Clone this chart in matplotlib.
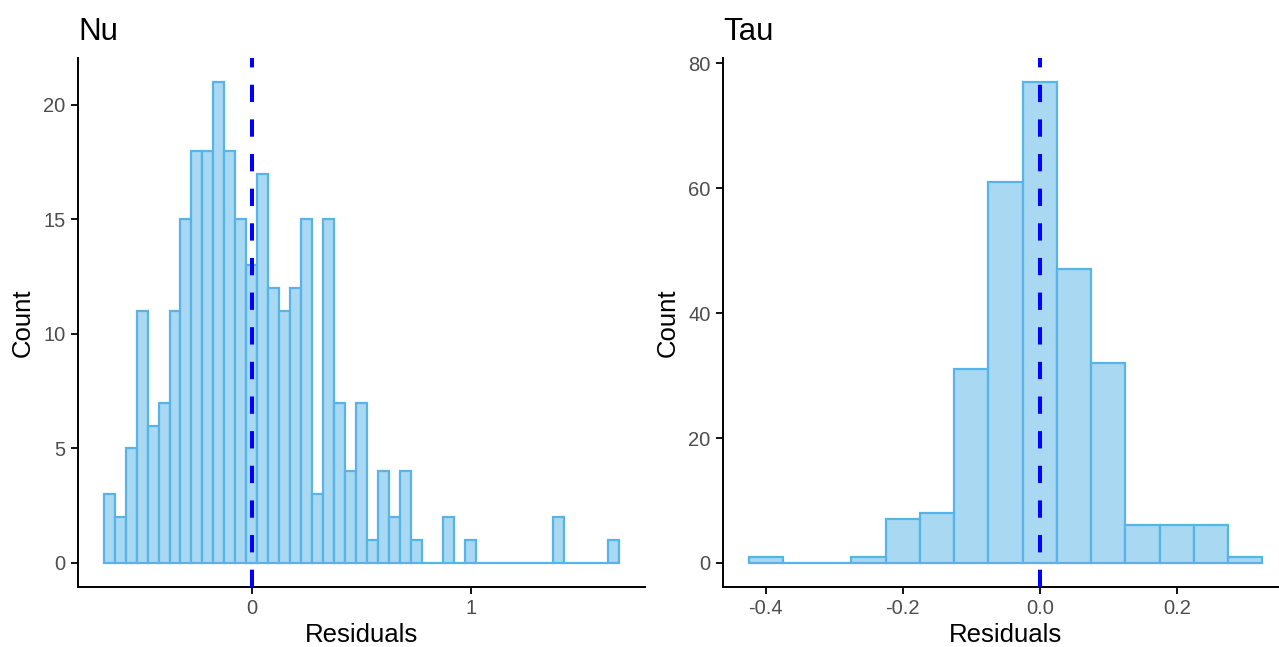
import numpy as np
import matplotlib
matplotlib.use("Agg")
import matplotlib.pyplot as plt

plt.rcParams['font.family'] = ['Liberation Sans', 'DejaVu Sans']

# Nu residuals histogram (bin width 0.05, centres at multiples of 0.05)
nu_centers = np.round(np.arange(-0.65, 1.651, 0.05), 2)
nu_counts = [3, 2, 5, 11, 6, 7, 11, 15, 18, 18, 21, 18, 15, 13, 17, 12, 11, 12,
             15, 3, 15, 7, 4, 7, 1, 4, 2, 4, 1, 0, 0, 2, 0, 1, 0, 0, 0, 0, 0,
             0, 0, 2, 0, 0, 0, 0, 1]
nu_ticks = [0, 1]
nu_yticks = [0, 5, 10, 15, 20]

# Tau residuals histogram
tau_centers = np.round(np.arange(-0.40, 0.301, 0.05), 2)
tau_counts = [1, 0, 0, 1, 7, 8, 31, 61, 77, 47, 32, 6, 6, 6, 1]
tau_ticks = [-0.4, -0.2, 0.0, 0.2]
tau_ticklabels = ['-0.4', '-0.2', '0.0', '0.2']
tau_yticks = [0, 20, 40, 60, 80]

fill = '#A9D8F2'
edge = '#56B4E9'
grey = '#4D4D4D'

fig = plt.figure(figsize=(12.79, 6.47), dpi=100)
ax1 = fig.add_axes([78/1279, 60/647, (644.6-78)/1279, 529/647])
ax2 = fig.add_axes([723/1279, 60/647, (1288-723)/1279, 529/647])


def draw(ax, centers, counts, width, title):
    ax.bar(centers, counts, width=width, color=fill, edgecolor=edge,
           linewidth=1.6, zorder=2)
    ax.axvline(0, color='#0000FF', linewidth=2.9, dashes=(4.3, 4.3), zorder=3)
    lo = centers[0] - width / 2
    hi = centers[-1] + width / 2
    pad = 0.05 * (hi - lo)
    ax.set_xlim(lo - pad, hi + pad)
    top = max(counts)
    ax.set_ylim(-0.05 * top, 1.05 * top)
    for s in ['top', 'right']:
        ax.spines[s].set_visible(False)
    for s in ['left', 'bottom']:
        ax.spines[s].set_linewidth(1.4)
    ax.tick_params(axis='both', colors='black', labelcolor=grey,
                   labelsize=14.5, length=5, width=1.3, pad=4)
    ax.set_xlabel('Residuals', fontsize=18.5, labelpad=3)
    ax.set_ylabel('Count', fontsize=18.5, labelpad=6)
    ax.set_title(title, loc='left', fontsize=22.5, pad=13)


draw(ax1, nu_centers, nu_counts, 0.05, 'Nu')
ax1.set_xticks(nu_ticks)
ax1.set_xticklabels([str(t) for t in nu_ticks])
ax1.set_yticks(nu_yticks)

draw(ax2, tau_centers, tau_counts, 0.05, 'Tau')
ax2.set_xticks(tau_ticks)
ax2.set_xticklabels(tau_ticklabels)
ax2.set_yticks(tau_yticks)

fig.savefig('out.png', dpi=100)
